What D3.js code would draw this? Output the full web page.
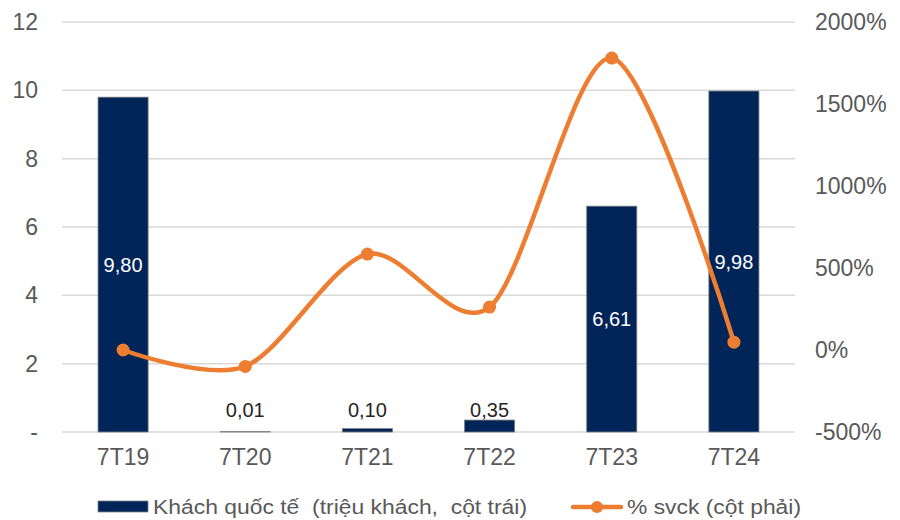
<!DOCTYPE html>
<html><head><meta charset="utf-8">
<script src="https://cdn.jsdelivr.net/npm/d3@7"></script>
<style>body{margin:0;background:#fff}svg{display:block;font-family:"Liberation Sans",Arial,sans-serif}</style>
</head><body><svg id="c" width="900" height="520"></svg>
<script>
const categories = ["7T19","7T20","7T21","7T22","7T23","7T24"];
const visitors = [9.80, 0.01, 0.10, 0.35, 6.61, 9.98];
const visitorLabels = ["9,80","0,01","0,10","0,35","6,61","9,98"];
const growth = [0, -100, 585, 262, 1780, 48];
const leftTicks = [0,2,4,6,8,10,12];
const leftTickLabels = ["-","2","4","6","8","10","12"];
const rightTicks = [-500,0,500,1000,1500,2000];
const legendLabels = ["Khách quốc tế  (triệu khách,  cột trái)","% svck (cột phải)"];

const svg = d3.select("#c");
const L = 62, R = 795, T = 22, B = 432;
const x = d3.scaleBand().domain(categories).range([L, R]).paddingInner(0.59).paddingOuter(0.295);
const y = d3.scaleLinear().domain([0, 12]).range([B, T]);
const y2 = d3.scaleLinear().domain([-500, 2000]).range([B, T]);
const cx = d => x(d) + x.bandwidth()/2;
const FONT = "Liberation Sans, Arial, sans-serif";

// gridlines
svg.append("g").selectAll("line").data(leftTicks).join("line")
  .attr("x1", L).attr("x2", R).attr("y1", d => y(d)).attr("y2", d => y(d))
  .attr("stroke", "#d9d9d9").attr("stroke-width", 1.5);

// left axis
const la = svg.append("g").attr("transform", `translate(${L},0)`)
  .call(d3.axisLeft(y).tickValues(leftTicks).tickFormat((d,i) => leftTickLabels[i]).tickSize(0).tickPadding(24));
la.select(".domain").remove();
la.selectAll("text").attr("font-size", 23).attr("fill", "#595959").attr("font-family", FONT);

// right axis
const ra = svg.append("g").attr("transform", `translate(${R},0)`)
  .call(d3.axisRight(y2).tickValues(rightTicks).tickFormat(d => d + "%").tickSize(0).tickPadding(20));
ra.select(".domain").remove();
ra.selectAll("text").attr("font-size", 23).attr("fill", "#595959").attr("font-family", FONT);

// bottom axis
const ba = svg.append("g").attr("transform", `translate(0,${B})`)
  .call(d3.axisBottom(x).tickSize(0).tickPadding(17));
ba.select(".domain").remove();
ba.selectAll("text").attr("font-size", 23).attr("fill", "#595959").attr("font-family", FONT);

// bars
svg.append("g").selectAll("rect").data(visitors).join("rect")
  .attr("x", (d,i) => x(categories[i])).attr("width", x.bandwidth())
  .attr("y", d => y(d)).attr("height", d => y(0) - y(d))
  .attr("fill", "#022559").attr("stroke", "#7f7f7f").attr("stroke-width", 0.8);

// bar labels
svg.append("g").selectAll("text").data(visitors).join("text")
  .attr("x", (d,i) => cx(categories[i]))
  .attr("y", d => d > 1 ? (y(d) + y(0))/2 + 7 : Math.min(y(d) - 3, y(0) - 15))
  .attr("text-anchor", "middle").attr("font-size", 20)
  .attr("fill", d => d > 1 ? "#ffffff" : "#262626")
  .text((d,i) => visitorLabels[i]);

// line
const line = d3.line().x((d,i) => cx(categories[i])).y(d => y2(d)).curve(d3.curveCardinal.tension(0.1));
svg.append("path").datum(growth).attr("d", line).attr("fill", "none")
  .attr("stroke", "#ED7D31").attr("stroke-width", 4.5).attr("stroke-linecap", "round");
svg.append("g").selectAll("circle").data(growth).join("circle")
  .attr("cx", (d,i) => cx(categories[i])).attr("cy", d => y2(d)).attr("r", 6.5).attr("fill", "#ED7D31");

// legend
const lg = svg.append("g");
lg.append("rect").attr("x", 98).attr("y", 501).attr("width", 50).attr("height", 11)
  .attr("fill", "#022559").attr("stroke", "#7f7f7f").attr("stroke-width", 0.8);
lg.append("text").attr("x", 153).attr("y", 514).attr("font-size", 20).attr("fill", "#595959")
  .attr("textLength", 374).attr("lengthAdjust", "spacingAndGlyphs")
  .attr("xml:space", "preserve").style("white-space", "pre").text(legendLabels[0]);
lg.append("line").attr("x1", 573).attr("x2", 621).attr("y1", 507).attr("y2", 507)
  .attr("stroke", "#ED7D31").attr("stroke-width", 4.5).attr("stroke-linecap", "round");
lg.append("circle").attr("cx", 597).attr("cy", 507).attr("r", 6).attr("fill", "#ED7D31");
lg.append("text").attr("x", 627).attr("y", 514).attr("font-size", 20).attr("fill", "#595959")
  .attr("textLength", 174).attr("lengthAdjust", "spacingAndGlyphs").text(legendLabels[1]);
</script></body></html>
